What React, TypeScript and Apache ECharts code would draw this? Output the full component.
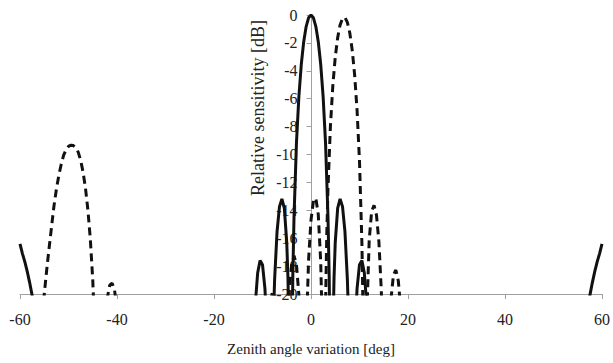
import React, { useEffect, useRef } from "react";
import * as echarts from "echarts";

// x: zenith angle variation [deg], y: relative sensitivity [dB]
const xTicks = [-60, -40, -20, 0, 20, 40, 60];
const yTicks = [0, -2, -4, -6, -8, -10, -12, -14, -16, -18, -20];

// Solid pattern (broadside beam), null entries break the curve
const solidLeftFlank: [number, number | null][] = [
  [-60, -16.4], [-59.5, -17.1], [-59, -17.7], [-58.5, -18.4], [-58, -19.2],
  [-57.5, -20.1], [-57, -21.2], [-56.5, -22.5], [-56, -24], [-55.5, null],
];
const solidCentre: [number, number | null][] = [
  [-12, -25.2], [-11.5, -20.8], [-11, -18.5], [-10.5, -17.6], [-10, -17.9],
  [-9.5, -19.6], [-9.25, -21.3], [-9, -23.8], [-8.5, -30], [-8, -25.9],
  [-7.75, -21.7], [-7.5, -18.95], [-7, -15.53], [-6.5, -13.74], [-6, -13.18],
  [-5.5, -13.85], [-5, -16.3], [-4.75, -18.85], [-4.5, -23.3], [-4, -26.4],
  [-3.75, -18.7], [-3.5, -14.45], [-3, -9.19], [-2.5, -5.85], [-2, -3.53],
  [-1.5, -1.91], [-1, -0.83], [-0.5, -0.2], [0, 0],
  [0.5, -0.2], [1, -0.83], [1.5, -1.91], [2, -3.53], [2.5, -5.85],
  [3, -9.19], [3.5, -14.45], [3.75, -18.7], [4, -26.4], [4.5, -23.3],
  [4.75, -18.85], [5, -16.3], [5.5, -13.85], [6, -13.18], [6.5, -13.74],
  [7, -15.53], [7.5, -18.95], [7.75, -21.7], [8, -25.9], [8.5, -30],
  [9, -23.8], [9.25, -21.3], [9.5, -19.6], [10, -17.9], [10.5, -17.6],
  [11, -18.5], [11.5, -20.8], [12, -25.2], [12.5, null],
];
const solidRightFlank: [number, number | null][] = [
  [56, -24], [56.5, -22.5], [57, -21.2], [57.5, -20.1], [58, -19.2],
  [58.5, -18.4], [59, -17.7], [59.5, -17.1], [60, -16.4],
];

// Dashed pattern (steered beam) with its grating lobe near -49 deg
const dashedGrating: [number, number | null][] = [
  [-56, -27], [-55.5, -22.8], [-55, -20.0], [-54.5, -18.3], [-54, -16.7],
  [-53.5, -15.2], [-53, -13.7], [-52.5, -12.5], [-52, -11.5], [-51.5, -10.7],
  [-51, -10.05], [-50.5, -9.65], [-50, -9.42], [-49.5, -9.33], [-49, -9.36],
  [-48.5, -9.5], [-48, -9.83], [-47.5, -10.41], [-47, -11.25], [-46.5, -12.41],
  [-46, -13.97], [-45.5, -16.07], [-45, -18.98], [-44.5, -23.44], [-44, -28],
  [-43.75, null],
];
const dashedGratingSide: [number, number | null][] = [
  [-43, -26], [-42.5, -22.24], [-42, -20.28], [-41.5, -19.37], [-41, -19.22],
  [-40.5, -19.75], [-40, -21.04], [-39.5, -23.3], [-39.25, null],
];
const dashedCentre: [number, number | null][] = [
  [-9.5, -27], [-9, -23.8], [-8.5, -21.13], [-8, -19.91], [-7.5, -19.91],
  [-7, -21.2], [-6.5, -24.5], [-6, -28], [-5.5, -28], [-5, -23.8],
  [-4.5, -19.87], [-4, -17.9], [-3.5, -17.26], [-3, -17.87], [-2.5, -20.06],
  [-2, -25.44], [-1.5, -28], [-1, -23.1], [-0.5, -17.56], [0, -14.7],
  [0.5, -13.32], [1, -13.13], [1.5, -14.3], [2, -17.69], [2.25, -21.25],
  [2.5, -28], [3, -20.8], [3.25, -15.74], [3.5, -12.45], [4, -8.0],
  [4.5, -5.07], [5, -3.03], [5.5, -1.62], [6, -0.71], [6.5, -0.24],
  [7, -0.18], [7.5, -0.53], [8, -1.29], [8.5, -2.52], [9, -4.31],
  [9.5, -6.84], [10, -10.49], [10.5, -16.41], [10.75, -21.6], [11, -28],
  [11.5, -21.67], [12, -16.13], [12.5, -14.08], [13, -13.64], [13.5, -14.35],
  [14, -16.25], [14.5, -19.78], [15, -26.9], [15.5, -28], [16, -24.45],
  [16.5, -20.34], [17, -18.63], [17.5, -18.28], [18, -19.05], [18.5, -21.05],
  [19, -24.9],
];

const solidData = [...solidLeftFlank, ...solidCentre, ...solidRightFlank];
const dashedData = [...dashedGrating, ...dashedGratingSide, ...dashedCentre];

const FONT = "Liberation Serif";
const AXIS_GRAY = "#a0a0a0";
const TEXT = "#222222";

const GRID_LEFT = 20;
const GRID_RIGHT = 10;
const WIDTH = 613;
const HEIGHT = 363;

export default function App() {
  const ref = useRef<HTMLDivElement>(null);

  useEffect(() => {
    document.body.style.margin = "0";
    if (!ref.current) return;
    const chart = echarts.init(ref.current, undefined, { renderer: "svg" });
    // place the y axis on x = 0 (middle of the symmetric x range)
    const plotW = WIDTH - GRID_LEFT - GRID_RIGHT;
    const zeroOffset = -plotW * (0 - xTicks[0]) / (xTicks[xTicks.length - 1] - xTicks[0]);
    chart.setOption({
      animation: false,
      backgroundColor: "#ffffff",
      textStyle: { fontFamily: FONT },
      grid: { left: GRID_LEFT, right: GRID_RIGHT, top: 15, bottom: 69, containLabel: false },
      xAxis: {
        type: "value",
        min: xTicks[0],
        max: xTicks[xTicks.length - 1],
        interval: 20,
        axisLine: { onZero: false, lineStyle: { color: AXIS_GRAY, width: 1 } },
        axisTick: { show: true, length: 5, lineStyle: { color: AXIS_GRAY } },
        splitLine: { show: false },
        axisLabel: { margin: 17, color: TEXT, fontFamily: FONT, fontSize: 16 },
        name: "Zenith angle variation [deg]",
        nameLocation: "middle",
        nameGap: 47,
        nameTextStyle: { color: TEXT, fontFamily: FONT, fontSize: 15 },
      },
      yAxis: {
        type: "value",
        position: "left",
        offset: zeroOffset,
        min: yTicks[yTicks.length - 1],
        max: yTicks[0],
        interval: 2,
        axisLine: { show: true, onZero: false, lineStyle: { color: AXIS_GRAY, width: 1 } },
        axisTick: { show: true, length: 5, lineStyle: { color: AXIS_GRAY } },
        splitLine: { show: false },
        axisLabel: { margin: 14, color: TEXT, fontFamily: FONT, fontSize: 16 },
      },
      graphic: [
        {
          type: "text",
          x: 258,
          y: 108,
          rotation: Math.PI / 2,
          style: {
            text: "Relative sensitivity [dB]",
            fontFamily: FONT,
            fontSize: 18,
            fill: TEXT,
            textAlign: "center",
            textVerticalAlign: "middle",
          },
        },
      ],
      series: [
        {
          type: "line",
          data: solidData,
          showSymbol: false,
          symbol: "none",
          connectNulls: false,
          clip: true,
          lineStyle: { color: "#111111", width: 3, type: "solid" },
          z: 3,
        },
        {
          type: "line",
          data: dashedData,
          showSymbol: false,
          symbol: "none",
          connectNulls: false,
          clip: true,
          lineStyle: { color: "#111111", width: 3, type: [8, 5] },
          z: 4,
        },
      ],
    });
    return () => chart.dispose();
  }, []);

  return <div ref={ref} style={{ width: WIDTH, height: HEIGHT }} />;
}
